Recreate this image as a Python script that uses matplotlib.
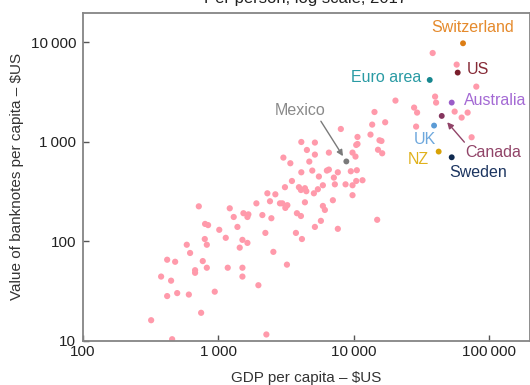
import matplotlib
matplotlib.use("Agg")
import matplotlib.pyplot as plt
from matplotlib.ticker import FixedLocator, FixedFormatter, NullLocator

plt.rcParams['font.family'] = ['Liberation Sans', 'DejaVu Sans']

# Other countries: GDP per capita ($US) and value of banknotes per capita ($US)
other_gdp = [718, 799, 841, 1017, 795, 823, 585, 619, 419, 480, 768, 674, 674, 823,
             378, 448, 419, 497, 606, 942, 747, 319, 456,
             3505, 3112, 3948, 4085, 4372, 4477, 5935, 5450, 5093, 7278, 8730, 9831,
             10470, 11650, 9831, 7036, 2307, 2643, 1914, 2412, 2858, 2977, 3242, 3133,
             4372, 5935, 6141, 1216, 1535, 1670, 1643, 1301, 2119, 2470, 3815, 4085,
             14960, 5738, 5181, 7656, 1386, 2230, 3751, 4155, 1136, 1509, 1643, 1441,
             2555, 1175, 1509, 3219, 1509, 1980, 2268,
             14290, 13740, 13350, 8058, 10700, 10700, 10470, 4112, 5181, 4522, 5181,
             6574, 9831, 10340, 3030, 3411, 4710, 4112, 4956, 6353, 6574, 7656, 5546,
             7155, 9550, 10580,
             38470, 57880, 80850, 20420, 40090, 40780, 28050, 29510, 55930, 69750,
             63000, 17140, 29020, 74650, 15560, 16090, 15170, 16290]
other_notes = [224, 149, 145, 130, 105, 92, 92, 76, 65, 62, 63, 51, 48, 54,
               44, 40, 28, 30, 29, 31, 19, 16, 10.3,
               403, 349, 349, 327, 341, 318, 365, 333, 303, 373, 373, 365,
               403, 410, 290, 258, 303, 296, 240, 252, 240, 240, 230, 216,
               246, 226, 206, 214, 191, 186, 175, 175, 183, 170, 191, 179,
               164, 160, 139, 133, 139, 121, 121, 105, 108, 103, 96, 86,
               78, 54, 54, 58, 44, 36, 11.5,
               1994, 1489, 1181, 1345, 1118, 950, 929, 995, 982, 827, 743,
               778, 778, 710, 693, 608, 632, 493, 513, 513, 525, 493, 447,
               436, 505, 517,
               7820, 5980, 3590, 2597, 2850, 2479, 2208, 1967, 2013, 1967,
               1752, 1571, 1422, 1110, 1035, 1019, 831, 766]

# Highlighted economies
hl_names = ["Switzerland", "US", "Euro area", "Australia", "Canada", "UK", "NZ", "Sweden", "Mexico"]
hl_gdp = [64500, 58900, 36600, 53200, 44900, 39400, 42600, 53200, 8850]
hl_notes = [9800, 4970, 4190, 2480, 1820, 1456, 797, 698, 634]
hl_dot_colors = ["#dc7d14", "#7a1e2c", "#17878f", "#9a5cc8", "#85355e", "#5b9bd5", "#d8a206", "#0f2a50", "#7a7a7a"]
hl_text_colors = ["#e58a2c", "#862a36", "#2a9ba4", "#a46ad4", "#914468", "#6ea8dd", "#e0b11c", "#1c3560", "#8a8a8a"]

x_ticks = [100, 1000, 10000, 100000]
x_labels = ["100", "1\u2009000", "10\u2009000", "100\u2009000"]
y_ticks = [10, 100, 1000, 10000]
y_labels = ["10", "100", "1\u2009000", "10\u2009000"]

fig = plt.figure(figsize=(5.3, 3.85), dpi=100)
ax = fig.add_axes([83 / 530, (385 - 340.5) / 385, (529.5 - 83) / 530, (340.5 - 12.5) / 385])

ax.scatter(other_gdp, other_notes, s=20, color="#ff9aab", edgecolors="none", zorder=2)
ax.scatter(hl_gdp, hl_notes, s=18, c=hl_dot_colors, edgecolors="none", zorder=3)

ax.set_xscale("log")
ax.set_yscale("log")
ax.set_xlim(100, 200000)
ax.set_ylim(10, 20000)
ax.xaxis.set_major_locator(FixedLocator(x_ticks))
ax.xaxis.set_major_formatter(FixedFormatter(x_labels))
ax.yaxis.set_major_locator(FixedLocator(y_ticks))
ax.yaxis.set_major_formatter(FixedFormatter(y_labels))
ax.xaxis.set_minor_locator(NullLocator())
ax.yaxis.set_minor_locator(NullLocator())

ax.tick_params(axis="both", which="major", direction="in", length=4.5, width=1,
               color="#555555", labelsize=11, labelcolor="#222222")
ax.tick_params(axis="x", pad=3)
ax.tick_params(axis="y", pad=5)
for sp in ax.spines.values():
    sp.set_color("#858585")
    sp.set_linewidth(1.3)

ax.set_xlabel("GDP per capita \u2013 $US", fontsize=11, color="#333333")
ax.set_ylabel("Value of banknotes per capita \u2013 $US", fontsize=11, color="#333333")
ax.xaxis.set_label_coords(0.5, -0.114)
ax.xaxis.label.set_va("center")
ax.yaxis.set_label_coords(-0.148, 0.5)
ax.yaxis.label.set_va("center")

# label offsets in pixels (dx, dy) and alignment
offsets = {
    "Switzerland": ((10, 16), "center"),
    "US": ((9, 3), "left"),
    "Euro area": ((-8, 2), "right"),
    "Australia": ((12, 2), "left"),
    "UK": ((-9, -14), "center"),
    "NZ": ((-20, -8), "center"),
    "Sweden": ((-2, -15), "left"),
}
for name, gx, ny, tc in zip(hl_names, hl_gdp, hl_notes, hl_text_colors):
    if name in offsets:
        (dx, dy), ha = offsets[name]
        ax.annotate(name, (gx, ny), xytext=(dx, dy), textcoords="offset pixels",
                    ha=ha, va="center", fontsize=11.5, color=tc, zorder=4)

i = hl_names.index("Canada")
ax.annotate("Canada", (hl_gdp[i], hl_notes[i]), xytext=(51, -36.5), textcoords="offset pixels",
            ha="center", va="center", fontsize=11.5, color=hl_text_colors[i], zorder=4,
            arrowprops=dict(arrowstyle="-|>", color=hl_text_colors[i], lw=1,
                            mutation_scale=9, shrinkA=0, shrinkB=6, relpos=(0.07, 0.85)))
i = hl_names.index("Mexico")
ax.annotate("Mexico", (hl_gdp[i], hl_notes[i]), xytext=(-46, 50.5), textcoords="offset pixels",
            ha="center", va="center", fontsize=11.5, color=hl_text_colors[i], zorder=4,
            arrowprops=dict(arrowstyle="-|>", color="#7a7a7a", lw=1,
                            mutation_scale=9, shrinkA=0, shrinkB=4.5, relpos=(0.87, 0.0)))

fig.text(306 / 530, 1 - 2.7 / 385, "Per person, log scale, 2017", ha="center", va="baseline",
         fontsize=12, color="#222222")

fig.savefig("out.png", dpi=100)
